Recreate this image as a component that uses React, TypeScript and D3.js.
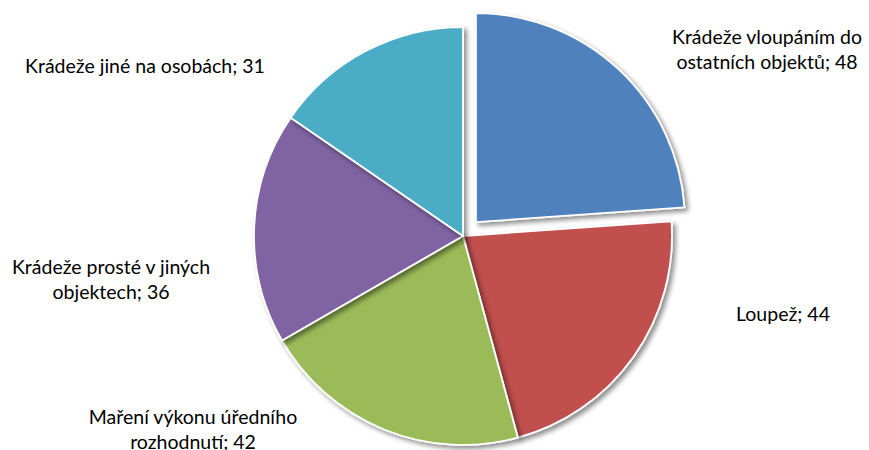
import React from "react";
import * as d3 from "d3";

const categories = [
  "Krádeže vloupáním do ostatních objektů",
  "Loupež",
  "Maření výkonu úředního rozhodnutí",
  "Krádeže prosté v jiných objektech",
  "Krádeže jiné na osobách",
];
const values = [48, 44, 42, 36, 31];
const colors = ["#4F81BD", "#C0504D", "#9BBB59", "#8064A2", "#4BACC6"];
const labelLines = [
  ["Krádeže vloupáním do", "ostatních objektů; 48"],
  ["Loupež; 44"],
  ["Maření výkonu úředního", "rozhodnutí; 42"],
  ["Krádeže prosté v jiných", "objektech; 36"],
  ["Krádeže jiné na osobách; 31"],
];
const labelPos: [number, number][] = [
  [767, 44],
  [783, 321],
  [193, 424],
  [111, 274],
  [145, 73],
];
const explode = [19, 0, 0, 0, 0];

export default function App() {
  const W = 869, H = 450;
  const cx = 463, cy = 236, r = 209;
  const data = categories.map((c, i) => ({ c, v: values[i], i }));
  const pie = d3.pie<any>().value((d) => d.v).sort(null).startAngle(0).endAngle(2 * Math.PI);
  const arcs = pie(data);
  const arc = d3.arc<any>().innerRadius(0).outerRadius(r);
  return (
    <svg width={W} height={H} style={{ position: "absolute", left: 0, top: 0, background: "#fff" }}>
      <defs>
        <filter id="sh" x="-20%" y="-20%" width="140%" height="140%">
          <feDropShadow dx="3" dy="3" stdDeviation="2.5" floodColor="#000" floodOpacity="0.45" />
        </filter>
      </defs>
      <g transform={`translate(${cx},${cy})`}>
        {arcs.map((a, k) => {
          const mid = (a.startAngle + a.endAngle) / 2;
          const e = explode[k];
          const dx = e * Math.sin(mid), dy = -e * Math.cos(mid);
          return (
            <path
              key={k}
              d={arc(a) as string}
              transform={`translate(${dx},${dy})`}
              fill={colors[k]}
              stroke="#fff"
              strokeWidth={1.8}
              strokeLinejoin="round"
              filter="url(#sh)"
            />
          );
        })}
      </g>
      {labelLines.map((lines, k) => (
        <text
          key={k}
          x={labelPos[k][0]}
          y={labelPos[k][1]}
          textAnchor="middle"
          fontFamily="Lato, 'Open Sans', sans-serif"
          fontSize={19.5}
          fill="#000"
        >
          {lines.map((l, j) => (
            <tspan key={j} x={labelPos[k][0]} dy={j === 0 ? 0 : 25}>
              {l}
            </tspan>
          ))}
        </text>
      ))}
    </svg>
  );
}
